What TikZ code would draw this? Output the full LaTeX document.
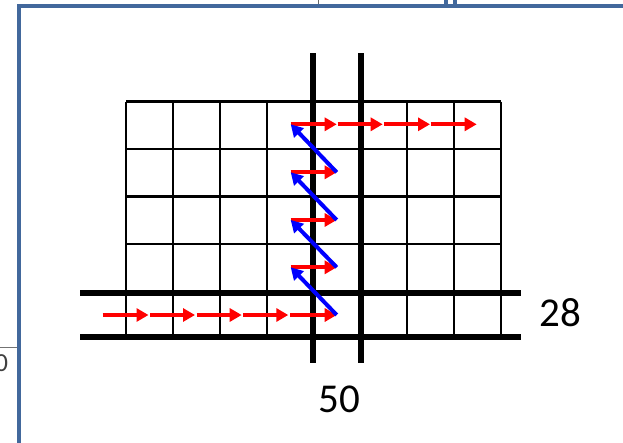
\documentclass[tikz,border=0pt]{standalone}
\usepackage{fontspec}
\setmainfont{Carlito}
\usetikzlibrary{arrows.meta}
\definecolor{framebl}{RGB}{66,104,156}
\definecolor{redarr}{RGB}{255,0,0}
\definecolor{bluearr}{RGB}{0,0,255}
\tikzset{
  gridline/.style={line width=2.4pt, black},
  thickline/.style={line width=6pt, black},
  redarrow/.style={line width=4pt, redarr, -{Triangle[length=12pt,width=13pt]}, shorten >=0pt},
  bluearrow/.style={line width=4pt, bluearr, -{Triangle[length=12pt,width=13pt]}},
  numlabel/.style={font=\fontsize{41}{41}\selectfont, inner sep=0pt, anchor=center}
}
\begin{document}
\begin{tikzpicture}[x=1pt,y=-1pt]
\useasboundingbox (0,0) rectangle (623,442);
\clip (0,0) rectangle (623,442);
\fill[white] (0,0) rectangle (623,442);
% screenshot fragments
\draw[line width=1pt, black!55] (0,347) -- (17,347);
\node[font=\fontsize{26}{26}\selectfont, text=black!75, inner sep=0pt] (zero) at (1.5,363) {0};
\draw[line width=1pt, black!60] (318.5,0) -- (318.5,4);
\draw[line width=3.5pt, framebl] (446,0) -- (446,6) (455,0) -- (455,6);
% frame
\draw[line width=4pt, framebl] (19,460) -- (19,6) -- (640,6);
% grid
\foreach \x in {126,173,220,267,407,454,501} \draw[gridline] (\x,101.5) -- (\x,337);
\foreach \y in {101.5,149,196.5,244} \draw[gridline] (126,\y) -- (501,\y);
% thick lines
\coordinate (hl1) at (80,292.5); \coordinate (hr1) at (521,292.5);
\coordinate (hl2) at (80,337);   \coordinate (hr2) at (521,337);
\coordinate (vt1) at (313,53);   \coordinate (vb1) at (313,363);
\coordinate (vt2) at (360.5,53); \coordinate (vb2) at (360.5,363);
\draw[thickline] (hl1) -- (hr1);
\draw[thickline] (hl2) -- (hr2);
\draw[thickline] (vt1) -- (vb1);
\draw[thickline] (vt2) -- (vb2);
% bottom row red arrows
\coordinate (b0s) at (102.7,315); \coordinate (b0e) at (148.5,315);
\coordinate (b1s) at (150,315);   \coordinate (b1e) at (195,315);
\coordinate (b2s) at (196.7,315); \coordinate (b2e) at (241.7,315);
\coordinate (b3s) at (243.3,315); \coordinate (b3e) at (288.3,315);
\coordinate (b4s) at (290,315);   \coordinate (b4e) at (336.7,315);
\foreach \i in {0,...,4} \draw[redarrow] (b\i s) -- (b\i e);
% middle short red arrows
\coordinate (m1s) at (290.7,267.3); \coordinate (m1e) at (336.7,267.3);
\coordinate (m2s) at (290.7,220);   \coordinate (m2e) at (336.7,220);
\coordinate (m3s) at (290.7,172.3); \coordinate (m3e) at (336.7,172.3);
\foreach \i in {1,2,3} \draw[redarrow] (m\i s) -- (m\i e);
% top row red arrows
\coordinate (t0s) at (290.7,124.3); \coordinate (t0e) at (336.7,124.3);
\coordinate (t1s) at (337.5,124.3); \coordinate (t1e) at (382.7,124.3);
\coordinate (t2s) at (384,124.3);   \coordinate (t2e) at (430,124.3);
\coordinate (t3s) at (430.7,124.3); \coordinate (t3e) at (476.7,124.3);
\foreach \i in {0,...,3} \draw[redarrow] (t\i s) -- (t\i e);
% blue diagonal arrows
\draw[bluearrow] (b4e) -- (m1s);
\draw[bluearrow] (m1e) -- (m2s);
\draw[bluearrow] (m2e) -- (m3s);
\draw[bluearrow] (m3e) -- (t0s);
% labels
\node[numlabel] (n28) at (560,313) {28};
\node[numlabel] (n50) at (339,399) {50};
\end{tikzpicture}
\end{document}
